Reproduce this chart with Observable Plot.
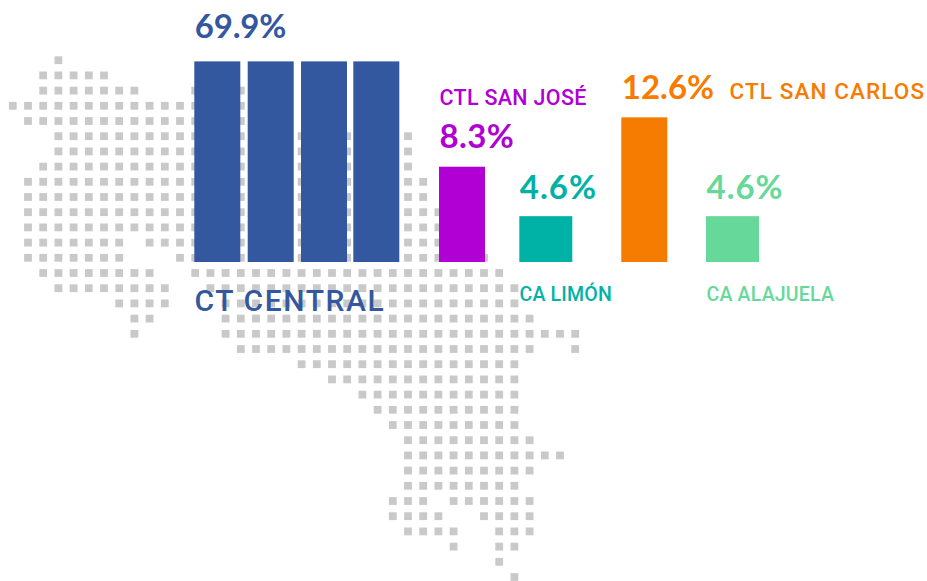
<!DOCTYPE html>
<html>
<head>
<meta charset="utf-8">
<script src="https://cdn.jsdelivr.net/npm/d3@7"></script>
<script src="https://cdn.jsdelivr.net/npm/@observablehq/plot@0.6"></script>
<style>
html,body{margin:0;padding:0;background:#fff;}
svg{display:block;}
</style>
</head>
<body>
<div id="chart"></div>
<script>
// Data
const categories = ["CT CENTRAL", "CTL SAN JOSÉ", "CA LIMÓN", "CTL SAN CARLOS", "CA ALAJUELA"];
const shares = [69.9, 8.3, 4.6, 12.6, 4.6];
const shareLabels = ["69.9%", "8.3%", "4.6%", "12.6%", "4.6%"];
const columnsPerCategory = [4, 1, 1, 1, 1];

// Dot map as runs of grid cells: row, first column, last column
const mapRow  = [0,1,2,2,3,4,5,6,7,8,9,10,11,12,12,13,13,14,14,15,15,16,16,17,17,18,18,19,19,20,21,22,23,24,25,26,27,28,29,29,30,30,31,31,32,32,33,34];
const mapFrom = [3,2,2,12,0,1,3,3,2,1,1,1,1,1,9,1,11,2,12,3,13,7,14,8,14,8,14,15,37,19,21,23,24,25,26,26,26,26,25,29,25,31,26,32,29,32,32,33];
const mapTo   = [3,6,8,15,18,18,26,26,26,27,27,28,28,7,30,7,31,9,32,10,33,10,33,9,34,8,37,34,37,33,33,33,33,33,34,36,34,33,27,34,28,34,29,34,29,33,32,33];

// Layout and style, kept apart from the values
const colors = ["#33589F", "#B000D3", "#00B2A6", "#F57C00", "#66D99A"];
const columnLeft  = [[194.3, 247.7, 301, 353.3], [439], [519.3], [621.3], [706]];
const columnWidth = [46, 46, 53, 46, 53];
const shareDy = [-34.5, -30, -28, -29, -28];
const shareSize = 33;
const shareSpacing = [-0.2, 0.4, 1, 0, 1];
const nameX = [194, 439, 519, 729, 706];
const nameDy = [39, -164, 32, -171, 32];
const nameSize = [30, 21.5, 19.5, 22.5, 19.5];
const nameSpacing = [1.6, 0.3, 0.2, 1.1, 0.2];
const pxPerPoint = 11.48, baseline = 262, height = 581, width = 927;
const cellPitch = 15.2, cellX0 = 12.3, cellY0 = 59.7, cellSide = 7.8;
const standardWidth = 46;

const columnValue = i => shares[i] / columnsPerCategory[i] * standardWidth / columnWidth[i];

const columns = categories.flatMap((name, i) => columnLeft[i].map(left => ({
  name,
  x1: left,
  x2: left + columnWidth[i],
  value: columnValue(i),
  fill: colors[i]
})));

const labels = categories.map((name, i) => ({
  name,
  share: shareLabels[i],
  x: columnLeft[i][0],
  top: columnValue(i),
  fill: colors[i],
  nameX: nameX[i], nameDy: nameDy[i], nameSize: nameSize[i], nameSpacing: nameSpacing[i],
  shareDy: shareDy[i], shareSpacing: shareSpacing[i]
}));

const cells = mapRow.flatMap((row, i) =>
  d3.range(mapFrom[i], mapTo[i] + 1).map(col => ({
    x: cellX0 + col * cellPitch,
    y: (baseline - cellY0 - row * cellPitch) / pxPerPoint
  })));

const spaced = (px) => function (index, scales, values, dims, context, next) {
  const g = next(index, scales, values, dims, context);
  g.setAttribute("letter-spacing", px);
  return g;
};

const chart = Plot.plot({
  width, height,
  marginTop: 0, marginRight: 0, marginBottom: 0, marginLeft: 0,
  style: {background: "#fff"},
  x: {domain: [0, width], range: [0, width], axis: null},
  y: {domain: [-(height - baseline) / pxPerPoint, baseline / pxPerPoint], range: [height, 0], axis: null},
  marks: [
    Plot.dot(cells, {x: "x", y: "y", symbol: "square", r: cellSide / Math.sqrt(Math.PI), fill: "#C9C9C9", stroke: "none"}),
    Plot.rectY(columns, {x1: "x1", x2: "x2", y1: 0, y2: "value", fill: "fill"}),
    ...labels.map(d => Plot.text([d], {
      x: "x", y: "top", text: "share", fill: "fill", textAnchor: "start", lineAnchor: "middle",
      dy: d.shareDy, fontSize: shareSize, fontFamily: "Lato", fontWeight: 700, render: spaced(d.shareSpacing)
    })),
    ...labels.map(d => Plot.text([d], {
      x: "nameX", y: 0, text: "name", fill: "fill", textAnchor: "start", lineAnchor: "middle",
      dy: d.nameDy, fontSize: d.nameSize, fontFamily: "Roboto", fontWeight: 500, render: spaced(d.nameSpacing)
    }))
  ]
});
document.getElementById("chart").appendChild(chart);
</script>
</body>
</html>
